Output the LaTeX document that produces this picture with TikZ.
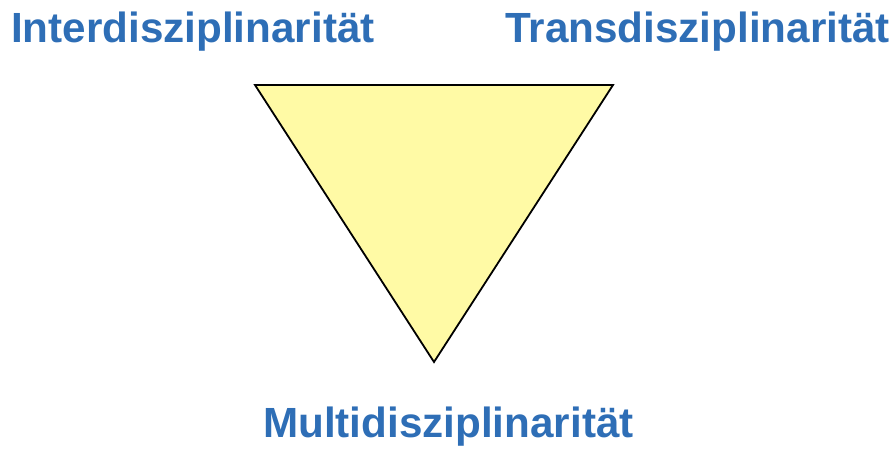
\documentclass[tikz,border=0pt]{standalone}
\usepackage{fontspec}
\setmainfont{Liberation Sans}
\definecolor{lblue}{RGB}{46,110,182}
\definecolor{tyellow}{RGB}{255,250,165}
\begin{document}
\begin{tikzpicture}[x=1pt,y=-1pt,
  lbl/.style={font=\fontsize{42.2}{42}\selectfont\bfseries, text=lblue, inner sep=0pt, anchor=base west},
  tri/.style={draw=black, line width=1.8pt, fill=tyellow, line join=miter}]
\useasboundingbox (0,0) rectangle (896,449);
\coordinate (tl) at (255,85);
\coordinate (tr) at (613,85);
\coordinate (bt) at (434,362);
\draw[tri] (tl) -- (tr) -- (bt) -- cycle;
\node[lbl] (inter) at (11,43) {Interdisziplinarität};
\node[lbl] (trans) at (505,43) {Transdisziplinarität};
\node[lbl] (multi) at (263,437) {Multidisziplinarität};
\end{tikzpicture}
\end{document}
